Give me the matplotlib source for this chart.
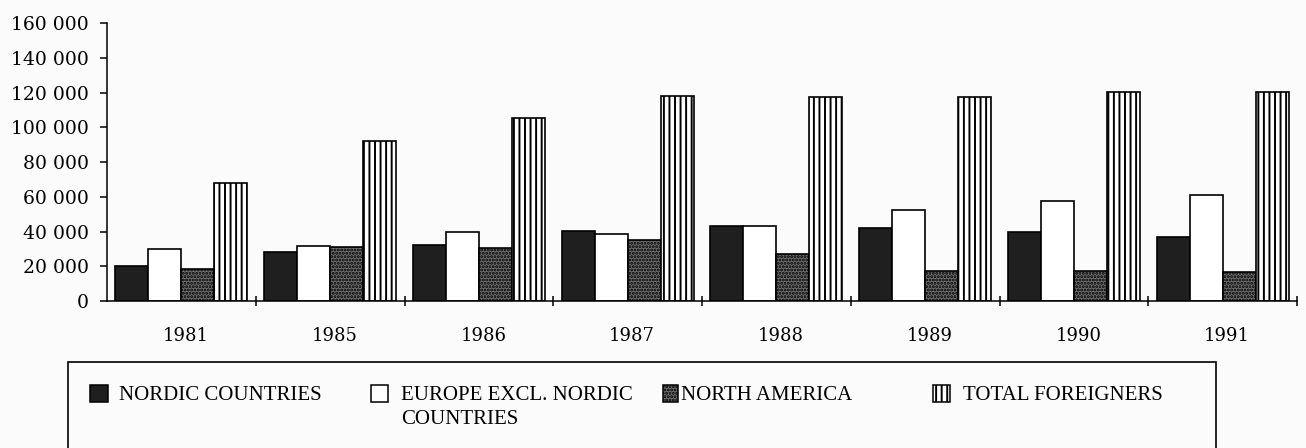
import matplotlib
matplotlib.use("Agg")
import matplotlib.pyplot as plt
from matplotlib.patches import Rectangle
from matplotlib.ticker import FuncFormatter, FixedLocator
import numpy as np

years = ["1981", "1985", "1986", "1987", "1988", "1989", "1990", "1991"]
nordic = [20000, 28200, 32200, 40500, 43300, 41800, 39500, 36800]
europe = [30000, 31600, 39900, 38600, 43300, 52500, 57700, 61000]
north_america = [18400, 31000, 30700, 35100, 27000, 17400, 17400, 16500]
total_foreigners = [68000, 92100, 105100, 118000, 117400, 117200, 120300, 120100]

series_labels = ["NORDIC COUNTRIES", "EUROPE EXCL. NORDIC\nCOUNTRIES",
                 "NORTH AMERICA", "TOTAL FOREIGNERS"]
y_ticks = [0, 20000, 40000, 60000, 80000, 100000, 120000, 140000, 160000]

plt.rcParams["hatch.linewidth"] = 1.4

styles = [
    dict(facecolor="#1f1f1f", edgecolor="black", hatch=None),
    dict(facecolor="white", edgecolor="black", hatch=None),
    dict(facecolor="#6e6e6e", edgecolor="black", hatch="....."),
    dict(facecolor="white", edgecolor="black", hatch="|||"),
]

bg = "#fbfbfb"
fig = plt.figure(figsize=(13.06, 4.48), dpi=100, facecolor=bg)
ax = fig.add_axes([0.0819, 0.328, 0.9113, 0.6207], facecolor=bg)

x = np.arange(len(years))
bar_w = 0.222
offsets = (np.arange(4) - 1.5) * bar_w
for data, off, st in zip([nordic, europe, north_america, total_foreigners], offsets, styles):
    ax.bar(x + off, data, width=bar_w, linewidth=1.2, **st)

ax.set_xlim(-0.5, len(years) - 0.5)
ax.set_ylim(0, 160000)

for side in ("top", "right"):
    ax.spines[side].set_visible(False)
ax.spines["left"].set_linewidth(1.1)
ax.spines["bottom"].set_linewidth(1.1)

ax.yaxis.set_major_locator(FixedLocator(y_ticks))
ax.yaxis.set_major_formatter(FuncFormatter(lambda v, p: f"{int(v):,}".replace(",", " ")))
ax.tick_params(axis="y", direction="out", length=5, width=1.1, pad=8,
               labelsize=13.5)

ax.xaxis.set_major_locator(FixedLocator(np.arange(len(years)) + 0.5))
ax.xaxis.set_major_formatter(FuncFormatter(lambda v, p: ""))
ax.set_xticks(x + 0.03, minor=True)
ax.set_xticklabels(years, minor=True)
ax.tick_params(axis="x", which="major", direction="inout", length=7, width=1.1)
ax.tick_params(axis="x", which="minor", length=0, pad=19, labelsize=13)

for lbl in ax.get_yticklabels() + ax.get_xticklabels(minor=True):
    lbl.set_fontfamily("DejaVu Serif")

# legend panel drawn in pixel-based figure coordinates
W, H = 1306, 448
def fx(px):
    return px / W
def fy(py):
    return 1 - py / H

fig.patches.append(Rectangle((fx(68), fy(460)), fx(1216) - fx(68), fy(362) - fy(460),
                             transform=fig.transFigure, fill=False,
                             edgecolor="black", linewidth=1.2))

entries_x = [90, 371, 663, 933]
text_x = [119, 401, 681, 963]
box_w = [18, 17, 15, 17]
for lab, st, bx, tx, bw in zip(series_labels, styles, entries_x, text_x, box_w):
    fig.patches.append(Rectangle((fx(bx), fy(402)), fx(bw), fy(385) - fy(402),
                                 transform=fig.transFigure, linewidth=1.1,
                                 **st))
    fig.text(fx(tx), fy(386), lab, ha="left", va="top",
             fontsize=15, family="Liberation Serif", linespacing=1.35)

fig.savefig("out.png", dpi=100, facecolor=bg)
